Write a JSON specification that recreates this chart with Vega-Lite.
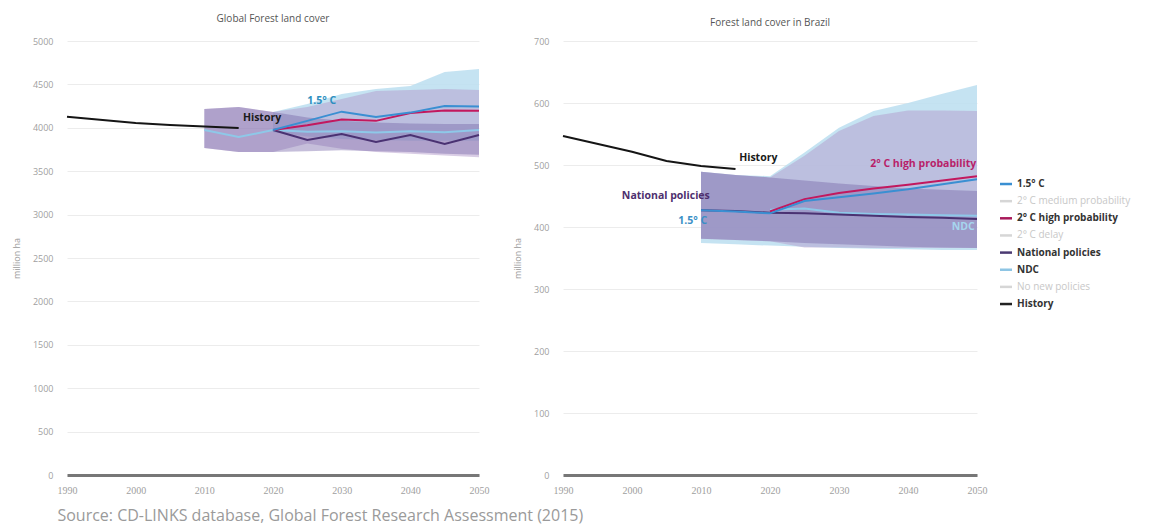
{
  "$schema": "https://vega.github.io/schema/vega-lite/v6.json",
  "padding": {"left": 12, "top": 14, "right": 5, "bottom": 5},
  "background": "white",
  "title": {
    "text": "Source: CD-LINKS database, Global Forest Research Assessment (2015)",
    "orient": "bottom",
    "anchor": "start",
    "frame": "bounds",
    "font": "Open Sans",
    "fontSize": 16,
    "fontWeight": "normal",
    "color": "#9a9a9a",
    "dx": 45,
    "offset": 13
  },
  "config": {
    "view": {"stroke": null},
    "axis": {
      "labelFont": "Open Sans",
      "labelFontSize": 9,
      "labelColor": "#a0a0a0",
      "domain": false,
      "ticks": false,
      "grid": true,
      "gridColor": "#ececec",
      "titleFont": "Open Sans",
      "titleFontSize": 9,
      "titleFontWeight": "normal",
      "titleColor": "#9a9a9a"
    },
    "axisY": {"labelPadding": 14, "titlePadding": 11, "format": "d"},
    "axisX": {
      "grid": false,
      "domain": true,
      "domainColor": "#777777",
      "domainWidth": 3,
      "labelFont": "Liberation Sans Narrow",
      "labelFontSize": 10,
      "labelPadding": 10,
      "labelFlush": false,
      "format": "d"
    }
  },
  "datasets": {
    "bands": [
      {"panel": "global", "series": "1.5° C", "year": 2020, "lo": 3950, "hi": 4182},
      {"panel": "global", "series": "1.5° C", "year": 2025, "lo": 3900, "hi": 4274},
      {"panel": "global", "series": "1.5° C", "year": 2030, "lo": 3870, "hi": 4389},
      {"panel": "global", "series": "1.5° C", "year": 2035, "lo": 3860, "hi": 4447},
      {"panel": "global", "series": "1.5° C", "year": 2040, "lo": 3850, "hi": 4481},
      {"panel": "global", "series": "1.5° C", "year": 2045, "lo": 3850, "hi": 4643},
      {"panel": "global", "series": "1.5° C", "year": 2050, "lo": 3850, "hi": 4677},
      {"panel": "global", "series": "2° C high probability", "year": 2010, "lo": 3767, "hi": 4216},
      {"panel": "global", "series": "2° C high probability", "year": 2015, "lo": 3721, "hi": 4240},
      {"panel": "global", "series": "2° C high probability", "year": 2020, "lo": 3721, "hi": 4182},
      {"panel": "global", "series": "2° C high probability", "year": 2025, "lo": 3820, "hi": 4240},
      {"panel": "global", "series": "2° C high probability", "year": 2030, "lo": 3760, "hi": 4332},
      {"panel": "global", "series": "2° C high probability", "year": 2035, "lo": 3720, "hi": 4424},
      {"panel": "global", "series": "2° C high probability", "year": 2040, "lo": 3700, "hi": 4435},
      {"panel": "global", "series": "2° C high probability", "year": 2045, "lo": 3680, "hi": 4447},
      {"panel": "global", "series": "2° C high probability", "year": 2050, "lo": 3660, "hi": 4435},
      {"panel": "global", "series": "National policies", "year": 2010, "lo": 3767, "hi": 4216},
      {"panel": "global", "series": "National policies", "year": 2015, "lo": 3721, "hi": 4240},
      {"panel": "global", "series": "National policies", "year": 2020, "lo": 3721, "hi": 4182},
      {"panel": "global", "series": "National policies", "year": 2025, "lo": 3730, "hi": 4120},
      {"panel": "global", "series": "National policies", "year": 2030, "lo": 3740, "hi": 4080},
      {"panel": "global", "series": "National policies", "year": 2035, "lo": 3730, "hi": 4060},
      {"panel": "global", "series": "National policies", "year": 2040, "lo": 3720, "hi": 4050},
      {"panel": "global", "series": "National policies", "year": 2045, "lo": 3700, "hi": 4045},
      {"panel": "global", "series": "National policies", "year": 2050, "lo": 3690, "hi": 4044},
      {"panel": "brazil", "series": "1.5° C", "year": 2010, "lo": 374, "hi": 489},
      {"panel": "brazil", "series": "1.5° C", "year": 2015, "lo": 372, "hi": 484},
      {"panel": "brazil", "series": "1.5° C", "year": 2020, "lo": 370, "hi": 482},
      {"panel": "brazil", "series": "1.5° C", "year": 2025, "lo": 368, "hi": 520},
      {"panel": "brazil", "series": "1.5° C", "year": 2030, "lo": 366, "hi": 560},
      {"panel": "brazil", "series": "1.5° C", "year": 2035, "lo": 365, "hi": 587},
      {"panel": "brazil", "series": "1.5° C", "year": 2040, "lo": 364, "hi": 600},
      {"panel": "brazil", "series": "1.5° C", "year": 2045, "lo": 363, "hi": 615},
      {"panel": "brazil", "series": "1.5° C", "year": 2050, "lo": 363, "hi": 629},
      {"panel": "brazil", "series": "2° C high probability", "year": 2010, "lo": 381, "hi": 489},
      {"panel": "brazil", "series": "2° C high probability", "year": 2015, "lo": 379, "hi": 484},
      {"panel": "brazil", "series": "2° C high probability", "year": 2020, "lo": 377, "hi": 480},
      {"panel": "brazil", "series": "2° C high probability", "year": 2025, "lo": 367, "hi": 515},
      {"panel": "brazil", "series": "2° C high probability", "year": 2030, "lo": 367, "hi": 555},
      {"panel": "brazil", "series": "2° C high probability", "year": 2035, "lo": 366, "hi": 579},
      {"panel": "brazil", "series": "2° C high probability", "year": 2040, "lo": 366, "hi": 588},
      {"panel": "brazil", "series": "2° C high probability", "year": 2045, "lo": 366, "hi": 588},
      {"panel": "brazil", "series": "2° C high probability", "year": 2050, "lo": 366, "hi": 587},
      {"panel": "brazil", "series": "National policies", "year": 2010, "lo": 381, "hi": 489},
      {"panel": "brazil", "series": "National policies", "year": 2015, "lo": 379, "hi": 484},
      {"panel": "brazil", "series": "National policies", "year": 2020, "lo": 377, "hi": 480},
      {"panel": "brazil", "series": "National policies", "year": 2025, "lo": 374, "hi": 475},
      {"panel": "brazil", "series": "National policies", "year": 2030, "lo": 372, "hi": 470},
      {"panel": "brazil", "series": "National policies", "year": 2035, "lo": 370, "hi": 466},
      {"panel": "brazil", "series": "National policies", "year": 2040, "lo": 368, "hi": 462},
      {"panel": "brazil", "series": "National policies", "year": 2045, "lo": 367, "hi": 460},
      {"panel": "brazil", "series": "National policies", "year": 2050, "lo": 366, "hi": 458}
    ],
    "lines": [
      {"panel": "global", "series": "NDC", "year": 2010, "value": 3974},
      {"panel": "global", "series": "NDC", "year": 2015, "value": 3894},
      {"panel": "global", "series": "NDC", "year": 2020, "value": 3974},
      {"panel": "global", "series": "NDC", "year": 2025, "value": 3955},
      {"panel": "global", "series": "NDC", "year": 2030, "value": 3960},
      {"panel": "global", "series": "NDC", "year": 2035, "value": 3945},
      {"panel": "global", "series": "NDC", "year": 2040, "value": 3960},
      {"panel": "global", "series": "NDC", "year": 2045, "value": 3950},
      {"panel": "global", "series": "NDC", "year": 2050, "value": 3974},
      {"panel": "global", "series": "National policies", "year": 2020, "value": 3975},
      {"panel": "global", "series": "National policies", "year": 2025, "value": 3859},
      {"panel": "global", "series": "National policies", "year": 2030, "value": 3929},
      {"panel": "global", "series": "National policies", "year": 2035, "value": 3836},
      {"panel": "global", "series": "National policies", "year": 2040, "value": 3917},
      {"panel": "global", "series": "National policies", "year": 2045, "value": 3813},
      {"panel": "global", "series": "National policies", "year": 2050, "value": 3917},
      {"panel": "global", "series": "2° C high probability", "year": 2020, "value": 3975},
      {"panel": "global", "series": "2° C high probability", "year": 2025, "value": 4030},
      {"panel": "global", "series": "2° C high probability", "year": 2030, "value": 4095},
      {"panel": "global", "series": "2° C high probability", "year": 2035, "value": 4080},
      {"panel": "global", "series": "2° C high probability", "year": 2040, "value": 4170},
      {"panel": "global", "series": "2° C high probability", "year": 2045, "value": 4200},
      {"panel": "global", "series": "2° C high probability", "year": 2050, "value": 4197},
      {"panel": "global", "series": "1.5° C", "year": 2020, "value": 3975},
      {"panel": "global", "series": "1.5° C", "year": 2025, "value": 4080},
      {"panel": "global", "series": "1.5° C", "year": 2030, "value": 4186},
      {"panel": "global", "series": "1.5° C", "year": 2035, "value": 4124},
      {"panel": "global", "series": "1.5° C", "year": 2040, "value": 4175},
      {"panel": "global", "series": "1.5° C", "year": 2045, "value": 4250},
      {"panel": "global", "series": "1.5° C", "year": 2050, "value": 4245},
      {"panel": "global", "series": "History", "year": 1990, "value": 4128},
      {"panel": "global", "series": "History", "year": 2000, "value": 4055},
      {"panel": "global", "series": "History", "year": 2005, "value": 4033},
      {"panel": "global", "series": "History", "year": 2010, "value": 4016},
      {"panel": "global", "series": "History", "year": 2015, "value": 3999},
      {"panel": "brazil", "series": "NDC", "year": 2020, "value": 428},
      {"panel": "brazil", "series": "NDC", "year": 2025, "value": 430},
      {"panel": "brazil", "series": "NDC", "year": 2030, "value": 423},
      {"panel": "brazil", "series": "NDC", "year": 2035, "value": 421},
      {"panel": "brazil", "series": "NDC", "year": 2040, "value": 420},
      {"panel": "brazil", "series": "NDC", "year": 2045, "value": 419},
      {"panel": "brazil", "series": "NDC", "year": 2050, "value": 418},
      {"panel": "brazil", "series": "National policies", "year": 2010, "value": 427},
      {"panel": "brazil", "series": "National policies", "year": 2015, "value": 426},
      {"panel": "brazil", "series": "National policies", "year": 2020, "value": 423},
      {"panel": "brazil", "series": "National policies", "year": 2025, "value": 422},
      {"panel": "brazil", "series": "National policies", "year": 2030, "value": 420},
      {"panel": "brazil", "series": "National policies", "year": 2035, "value": 418},
      {"panel": "brazil", "series": "National policies", "year": 2040, "value": 416},
      {"panel": "brazil", "series": "National policies", "year": 2045, "value": 415},
      {"panel": "brazil", "series": "National policies", "year": 2050, "value": 413},
      {"panel": "brazil", "series": "2° C high probability", "year": 2020, "value": 425},
      {"panel": "brazil", "series": "2° C high probability", "year": 2025, "value": 445},
      {"panel": "brazil", "series": "2° C high probability", "year": 2030, "value": 455},
      {"panel": "brazil", "series": "2° C high probability", "year": 2035, "value": 462},
      {"panel": "brazil", "series": "2° C high probability", "year": 2040, "value": 468},
      {"panel": "brazil", "series": "2° C high probability", "year": 2045, "value": 475},
      {"panel": "brazil", "series": "2° C high probability", "year": 2050, "value": 482},
      {"panel": "brazil", "series": "1.5° C", "year": 2010, "value": 427},
      {"panel": "brazil", "series": "1.5° C", "year": 2015, "value": 425},
      {"panel": "brazil", "series": "1.5° C", "year": 2020, "value": 422},
      {"panel": "brazil", "series": "1.5° C", "year": 2025, "value": 442},
      {"panel": "brazil", "series": "1.5° C", "year": 2030, "value": 448},
      {"panel": "brazil", "series": "1.5° C", "year": 2035, "value": 454},
      {"panel": "brazil", "series": "1.5° C", "year": 2040, "value": 461},
      {"panel": "brazil", "series": "1.5° C", "year": 2045, "value": 469},
      {"panel": "brazil", "series": "1.5° C", "year": 2050, "value": 477},
      {"panel": "brazil", "series": "History", "year": 1990, "value": 546.7},
      {"panel": "brazil", "series": "History", "year": 2000, "value": 521.3},
      {"panel": "brazil", "series": "History", "year": 2005, "value": 506.4},
      {"panel": "brazil", "series": "History", "year": 2010, "value": 498.5},
      {"panel": "brazil", "series": "History", "year": 2015, "value": 493.5}
    ],
    "labels": [
      {"panel": "global", "series": "History", "label": "History", "year": 2018.4, "value": 4113},
      {"panel": "global", "series": "1.5° C", "label": "1.5° C", "year": 2027.1, "value": 4309},
      {"panel": "brazil", "series": "History", "label": "History", "year": 2018.3, "value": 511},
      {"panel": "brazil", "series": "2° C high probability", "label": "2° C high probability", "year": 2042.2, "value": 502},
      {"panel": "brazil", "series": "National policies", "label": "National policies", "year": 2004.9, "value": 450},
      {"panel": "brazil", "series": "1.5° C", "label": "1.5° C", "year": 2008.8, "value": 409},
      {"panel": "brazil", "series": "NDC", "label": "NDC", "year": 2048, "value": 400}
    ],
    "legend": [
      {"name": "1.5° C", "order": 0, "shown": true},
      {"name": "2° C medium probability", "order": 1, "shown": false},
      {"name": "2° C high probability", "order": 2, "shown": true},
      {"name": "2° C delay", "order": 3, "shown": false},
      {"name": "National policies", "order": 4, "shown": true},
      {"name": "NDC", "order": 5, "shown": true},
      {"name": "No new policies", "order": 6, "shown": false},
      {"name": "History", "order": 7, "shown": true}
    ]
  },
  "resolve": {"scale": {"x": "independent", "y": "independent", "color": "independent", "stroke": "independent"}},
  "hconcat": [
    {
      "spacing": 24,
      "resolve": {"scale": {"x": "independent", "y": "independent", "color": "independent", "stroke": "independent"}},
      "hconcat": [
        {
          "width": 412,
          "height": 434,
          "title": {"text": "Global Forest land cover", "offset": 13, "font": "Open Sans", "fontSize": 10, "fontWeight": "normal", "color": "#555"},
          "layer": [
            {
              "data": {"name": "bands"},
              "transform": [{"filter": "datum.panel == 'global' && datum.series == '1.5° C'"}],
              "mark": {"type": "area", "color": "#bfe0f1", "opacity": 0.9},
              "encoding": {
                "x": {"field": "year", "type": "quantitative", "title": null, "scale": {"domain": [1990, 2050], "nice": false}, "axis": {"values": [1990, 2000, 2010, 2020, 2030, 2040, 2050]}},
                "y": {"field": "lo", "type": "quantitative", "title": "million ha", "scale": {"domain": [0, 5000], "nice": false}, "axis": {"values": [0, 500, 1000, 1500, 2000, 2500, 3000, 3500, 4000, 4500, 5000]}},
                "y2": {"field": "hi"}
              }
            },
            {
              "data": {"name": "bands"},
              "transform": [{"filter": "datum.panel == 'global' && datum.series == '2° C high probability'"}],
              "mark": {"type": "area", "color": "#b49bcc", "opacity": 0.5},
              "encoding": {
                "x": {"field": "year", "type": "quantitative", "title": null},
                "y": {"field": "lo", "type": "quantitative", "title": "million ha"},
                "y2": {"field": "hi"}
              }
            },
            {
              "data": {"name": "bands"},
              "transform": [{"filter": "datum.panel == 'global' && datum.series == 'National policies'"}],
              "mark": {"type": "area", "color": "#7565a8", "opacity": 0.42},
              "encoding": {
                "x": {"field": "year", "type": "quantitative", "title": null},
                "y": {"field": "lo", "type": "quantitative", "title": "million ha"},
                "y2": {"field": "hi"}
              }
            },
            {
              "data": {"name": "lines"},
              "transform": [{"filter": "datum.panel == 'global'"}],
              "mark": {"type": "line", "strokeWidth": 2},
              "encoding": {
                "x": {"field": "year", "type": "quantitative", "title": null},
                "y": {"field": "value", "type": "quantitative", "title": "million ha"},
                "stroke": {"field": "series", "type": "nominal", "legend": null, "scale": {"domain": ["NDC", "National policies", "2° C high probability", "1.5° C", "History"], "range": ["#8ec8e8", "#4a3272", "#c2185e", "#3a8fd2", "#151515"]}},
                "order": {"field": "year"}
              }
            },
            {
              "data": {"name": "labels"},
              "transform": [{"filter": "datum.panel == 'global'"}],
              "mark": {"type": "text", "font": "Open Sans", "fontSize": 10.5, "fontWeight": "bold"},
              "encoding": {
                "x": {"field": "year", "type": "quantitative", "title": null},
                "y": {"field": "value", "type": "quantitative", "title": "million ha"},
                "text": {"field": "label"},
                "color": {"field": "series", "type": "nominal", "legend": null, "scale": {"domain": ["NDC", "National policies", "2° C high probability", "1.5° C", "History"], "range": ["#a6d6ee", "#4e2f6e", "#b81f69", "#2e8fbf", "#1a1a1a"]}}
              }
            }
          ]
        },
        {
          "width": 414,
          "height": 434,
          "title": {"text": "Forest land cover in Brazil", "offset": 9, "font": "Open Sans", "fontSize": 10, "fontWeight": "normal", "color": "#555"},
          "layer": [
            {
              "data": {"name": "bands"},
              "transform": [{"filter": "datum.panel == 'brazil' && datum.series == '1.5° C'"}],
              "mark": {"type": "area", "color": "#bfe0f1", "opacity": 0.9},
              "encoding": {
                "x": {"field": "year", "type": "quantitative", "title": null, "scale": {"domain": [1990, 2050], "nice": false}, "axis": {"values": [1990, 2000, 2010, 2020, 2030, 2040, 2050]}},
                "y": {"field": "lo", "type": "quantitative", "title": "million ha", "scale": {"domain": [0, 700], "nice": false}, "axis": {"values": [0, 100, 200, 300, 400, 500, 600, 700]}},
                "y2": {"field": "hi"}
              }
            },
            {
              "data": {"name": "bands"},
              "transform": [{"filter": "datum.panel == 'brazil' && datum.series == '2° C high probability'"}],
              "mark": {"type": "area", "color": "#b49bcc", "opacity": 0.5},
              "encoding": {
                "x": {"field": "year", "type": "quantitative", "title": null},
                "y": {"field": "lo", "type": "quantitative", "title": "million ha"},
                "y2": {"field": "hi"}
              }
            },
            {
              "data": {"name": "bands"},
              "transform": [{"filter": "datum.panel == 'brazil' && datum.series == 'National policies'"}],
              "mark": {"type": "area", "color": "#7565a8", "opacity": 0.42},
              "encoding": {
                "x": {"field": "year", "type": "quantitative", "title": null},
                "y": {"field": "lo", "type": "quantitative", "title": "million ha"},
                "y2": {"field": "hi"}
              }
            },
            {
              "data": {"name": "lines"},
              "transform": [{"filter": "datum.panel == 'brazil'"}],
              "mark": {"type": "line", "strokeWidth": 2},
              "encoding": {
                "x": {"field": "year", "type": "quantitative", "title": null},
                "y": {"field": "value", "type": "quantitative", "title": "million ha"},
                "stroke": {"field": "series", "type": "nominal", "legend": null, "scale": {"domain": ["NDC", "National policies", "2° C high probability", "1.5° C", "History"], "range": ["#8ec8e8", "#4a3272", "#c2185e", "#3a8fd2", "#151515"]}},
                "order": {"field": "year"}
              }
            },
            {
              "data": {"name": "labels"},
              "transform": [{"filter": "datum.panel == 'brazil'"}],
              "mark": {"type": "text", "font": "Open Sans", "fontSize": 10.5, "fontWeight": "bold"},
              "encoding": {
                "x": {"field": "year", "type": "quantitative", "title": null},
                "y": {"field": "value", "type": "quantitative", "title": "million ha"},
                "text": {"field": "label"},
                "color": {"field": "series", "type": "nominal", "legend": null, "scale": {"domain": ["NDC", "National policies", "2° C high probability", "1.5° C", "History"], "range": ["#a6d6ee", "#4e2f6e", "#b81f69", "#3b90c6", "#1a1a1a"]}}
              }
            }
          ]
        }
      ]
    },
    {
      "width": 150,
      "height": 320,
      "data": {"name": "legend"},
      "layer": [
        {
          "mark": {"type": "rule", "strokeWidth": 2.5},
          "encoding": {
            "y": {"field": "order", "type": "quantitative", "axis": null, "scale": {"domain": [-8.342, 10.323], "reverse": true, "nice": false, "zero": false}},
            "x": {"datum": 0, "type": "quantitative", "axis": null, "scale": {"domain": [0, 150], "nice": false}},
            "x2": {"datum": 12},
            "stroke": {"field": "name", "type": "nominal", "legend": null, "scale": {"domain": ["1.5° C", "2° C medium probability", "2° C high probability", "2° C delay", "National policies", "NDC", "No new policies", "History"], "range": ["#3a8fd2", "#d6d6d6", "#a8195a", "#d6d6d6", "#4b3a72", "#8ec5e4", "#d6d6d6", "#222222"]}}
          }
        },
        {
          "transform": [{"filter": "datum.shown"}],
          "mark": {"type": "text", "align": "left", "baseline": "middle", "font": "Open Sans", "fontSize": 10, "fontWeight": "bold", "color": "#333"},
          "encoding": {
            "y": {"field": "order", "type": "quantitative", "axis": null},
            "x": {"datum": 17, "type": "quantitative", "axis": null},
            "text": {"field": "name"}
          }
        },
        {
          "transform": [{"filter": "!datum.shown"}],
          "mark": {"type": "text", "align": "left", "baseline": "middle", "font": "Open Sans", "fontSize": 10, "fontWeight": "normal", "color": "#c8c8c8"},
          "encoding": {
            "y": {"field": "order", "type": "quantitative", "axis": null},
            "x": {"datum": 17, "type": "quantitative", "axis": null},
            "text": {"field": "name"}
          }
        }
      ]
    }
  ],
  "spacing": 11
}
